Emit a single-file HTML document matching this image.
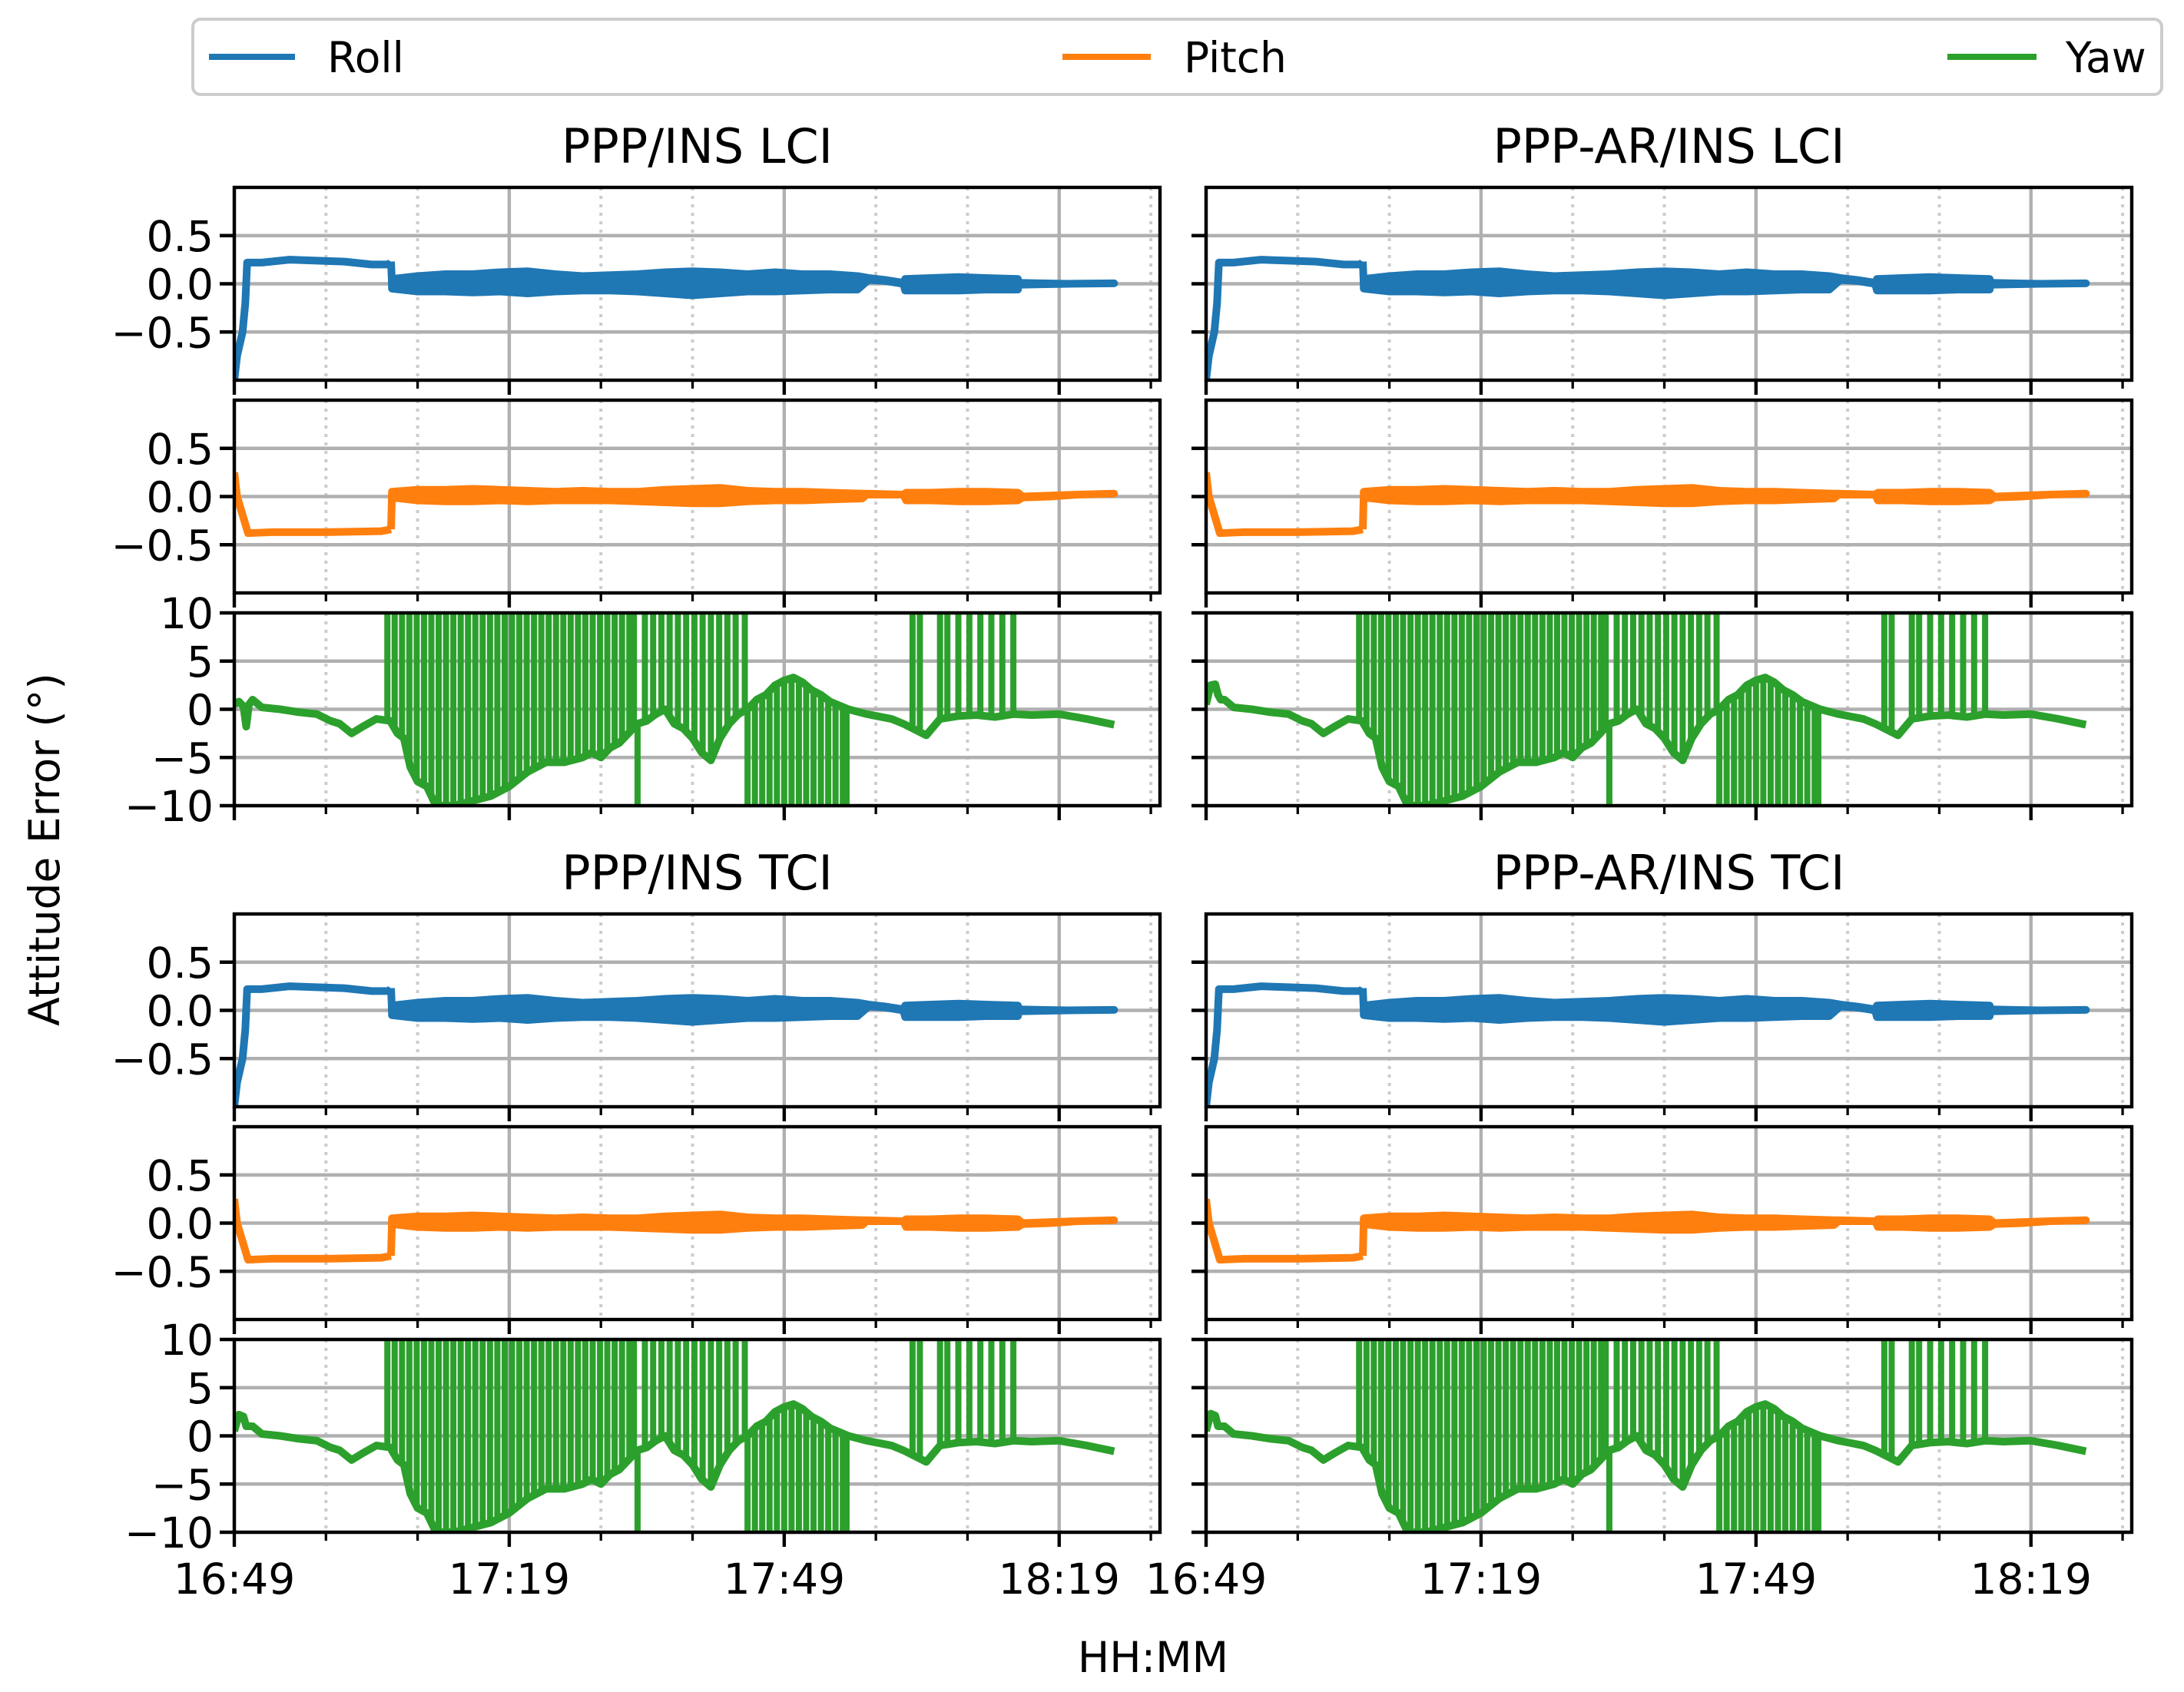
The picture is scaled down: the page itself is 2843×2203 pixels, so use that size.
<!DOCTYPE html>
<html><head><meta charset="utf-8"><style>
html,body{margin:0;padding:0;background:#fff}
svg{display:block}
text{font-family:"DejaVu Sans","Liberation Sans",sans-serif;fill:#000}
</style></head><body>
<svg id="fig" xmlns="http://www.w3.org/2000/svg" width="2843" height="2203" viewBox="0 0 2843 2203">
<rect width="2843" height="2203" fill="#fff"/>
<g>
<rect x="251" y="25" width="2563" height="98" rx="10" fill="#fff" stroke="#cccccc" stroke-width="4"/>
<g><line x1="272" y1="74" x2="384" y2="74" stroke="#1f77b4" stroke-width="8"/><text x="426" y="94" font-size="55">Roll</text></g>
<g><line x1="1383" y1="74" x2="1498" y2="74" stroke="#ff7f0e" stroke-width="8"/><text x="1541" y="94" font-size="55">Pitch</text></g>
<g><line x1="2535" y1="74" x2="2651" y2="74" stroke="#2ca02c" stroke-width="8"/><text x="2689" y="94" font-size="55">Yaw</text></g>
</g>
<text x="58" y="1106" font-size="55" text-anchor="middle" dominant-baseline="central" transform="rotate(-90 58 1106)">Attitude Error (°)</text>
<text x="1501" y="2177" font-size="55" text-anchor="middle">HH:MM</text>
</svg>
<script>
// ---- data (minutes since 16:49) ----
const xTickLabels = ["16:49","17:19","17:49","18:19"];
const xTickMinutes = [0,30,60,90];
const xMinorMinutes = [10,20,40,50,70,80,100];
const rollTicks = [-0.5,0,0.5];
const rollTickLabels = ["\u22120.5","0.0","0.5"];
const yawTicks = [-10,-5,0,5,10];
const yawTickLabels = ["\u221210","\u22125","0","5","10"];
const panelTitles = ["PPP/INS LCI","PPP-AR/INS LCI","PPP/INS TCI","PPP-AR/INS TCI"];

const rollLeadT = [0,0.3,0.9,1.2,1.4,3,6,9,12,15,16.9,17.1];
const rollLeadV = [-1.0,-0.75,-0.5,-0.2,0.22,0.22,0.25,0.24,0.23,0.2,0.2,0.23];
const rollBandT  = [17.2,20,23,26,29,32,35,38,41,44,47,50,53,56,59,62,65,68,69.2,71,73,73.2,76,79,82,85.5,85.6,88,91,96];
const rollBandHi = [0.05,0.08,0.1,0.1,0.12,0.13,0.1,0.08,0.09,0.1,0.12,0.13,0.12,0.1,0.12,0.1,0.1,0.08,0.06,0.04,0.01,0.05,0.06,0.07,0.06,0.05,0.01,0.005,0.0,0.005];
const rollBandLo = [-0.05,-0.08,-0.08,-0.09,-0.08,-0.1,-0.08,-0.07,-0.07,-0.08,-0.1,-0.12,-0.1,-0.08,-0.08,-0.07,-0.06,-0.06,0.04,0.03,0.0,-0.07,-0.07,-0.07,-0.06,-0.06,-0.01,-0.005,0.0,0.005];

const pitchLeadT = [0,0.3,1.5,4,10,16,17.1];
const pitchLeadV = [0.25,0.0,-0.38,-0.37,-0.37,-0.36,-0.34];
const pitchBandT  = [17.2,20,23,26,29,32,35,38,41,44,47,50,53,56,59,62,65,68.5,69,73,73.3,76,79,82,85.5,86,89,92,96];
const pitchBandHi = [0.05,0.07,0.07,0.08,0.07,0.06,0.05,0.06,0.05,0.05,0.07,0.08,0.09,0.06,0.05,0.05,0.04,0.03,0.03,0.02,0.04,0.04,0.05,0.05,0.04,0.0,0.01,0.02,0.03];
const pitchBandLo = [-0.01,-0.04,-0.05,-0.05,-0.04,-0.05,-0.04,-0.04,-0.04,-0.05,-0.06,-0.07,-0.07,-0.05,-0.04,-0.04,-0.03,-0.02,0.02,0.02,-0.04,-0.04,-0.05,-0.05,-0.04,-0.01,0.0,0.02,0.03];

const yawT = [2,3,5,7,9,10.5,11.5,12.8,14,15.5,17,17.8,18.5,19.2,20,21,22,24,26,28,30,32,34,36,38,39,40,41,42,43,44,45,46,47,48,49,50,51,52,53,54,55,56,57,58,59,60,61,62,63,64,65,66,67,69,71.7,73,75.5,77,79,81,83,85,87,90,93,96];
const yawV = [1.0,0.2,0,-0.3,-0.5,-1.2,-1.5,-2.5,-1.8,-1.0,-1.2,-2.5,-3,-6,-7.5,-8,-10,-10,-9.5,-9,-8,-6.5,-5.5,-5.5,-5,-4.5,-5,-4,-3.5,-2.5,-1.5,-1.2,-0.5,0,-1.5,-2,-3,-4.5,-5.3,-3,-1.5,-0.5,0,1,1.5,2.5,3,3.3,2.8,2,1.5,0.8,0.4,0,-0.5,-1,-1.5,-2.7,-1,-0.7,-0.6,-0.8,-0.5,-0.6,-0.5,-1.0,-1.6];
const yawHeadT = [0,0.5,1,1.3,1.6];
const yawHeadPPPLCI = [0.5,0.8,0.3,-1.8,0.5];
const yawHeadARLCI  = [0.5,2.5,2.6,1.5,1.0];
const yawHeadPPPTCI = [0.5,2.2,2.0,1.0,1.0];
const yawHeadARTCI  = [0.5,2.3,2.1,1.0,1.0];
const yawSpikeUpT = [16.7,17.5,18.3,19.1,19.9,20.7,21.5,22.3,23.1,23.9,24.7,25.5,26.3,27.1,27.9,28.7,29.5,30.3,31.1,31.9,32.7,33.5,34.3,35.1,35.9,36.7,37.5,38.3,39.1,39.9,40.7,41.5,42.3,43.1,43.6,44.8,45.7,46.6,47.5,48.4,49.3,50.2,51.1,52.0,52.9,53.8,54.7,55.7,74.0,74.8,77.0,77.8,79.0,80.2,81.4,82.6,83.8,85.0];
const yawSpikeDownT = [44.0,56.0,56.8,57.6,58.4,59.2,60.0,60.8,61.6,62.4,63.2,64.0,64.8,65.6,66.4,66.8];

// ---- layout ----
const NS="http://www.w3.org/2000/svg";
const svg=document.getElementById('fig');
const cols=[305,1570], W=1205, XMAX=101;
const groups=[[244,521,798],[1190,1467,1744]], H=251;
function mk(tag,attrs,parent){const e=document.createElementNS(NS,tag);for(const k in attrs)e.setAttribute(k,attrs[k]);(parent||svg).appendChild(e);return e;}
function interp(T,V,t){if(t<=T[0])return V[0];for(let i=1;i<T.length;i++){if(t<=T[i]){const f=(t-T[i-1])/(T[i]-T[i-1]);return V[i-1]+f*(V[i]-V[i-1]);}}return V[V.length-1];}
let clipId=0;
function axes(x0,y0,ymin,ymax,ticks,labels,showX,showY,name){
  const g=mk('g',{});
  
  
  const xs=t=>x0+t/XMAX*W, ys=v=>y0+H-(v-ymin)/(ymax-ymin)*H;
  xMinorMinutes.forEach(m=>{const l=mk('line',{x1:xs(m),x2:xs(m),y1:y0,y2:y0+H,stroke:'#cccccc','stroke-width':4,'stroke-dasharray':'4 7'},g);
    
    });
  xTickMinutes.forEach(m=>{const l=mk('line',{x1:xs(m),x2:xs(m),y1:y0,y2:y0+H,stroke:'#b0b0b0','stroke-width':4.4},g);
    
    });
  ticks.forEach((v,i)=>{const l=mk('line',{x1:x0,x2:x0+W,y1:ys(v),y2:ys(v),stroke:'#b0b0b0','stroke-width':4.4},g);
    
    
    mk('line',{x1:x0-19,x2:x0,y1:ys(v),y2:ys(v),stroke:'#000','stroke-width':4.4},g);
    if(showY){const tx=mk('text',{x:x0-27,y:ys(v)+20,'font-size':55,'text-anchor':'end'},g);tx.textContent=labels[i];
    
    }});
  xTickMinutes.forEach(m=>mk('line',{x1:xs(m),x2:xs(m),y1:y0+H,y2:y0+H+19,stroke:'#000','stroke-width':4.4},g));
  xMinorMinutes.forEach(m=>mk('line',{x1:xs(m),x2:xs(m),y1:y0+H,y2:y0+H+11,stroke:'#000','stroke-width':3.3},g));
  if(showX){xTickMinutes.forEach((m,i)=>{const tx=mk('text',{x:xs(m),y:2075,'font-size':55,'text-anchor':'middle'},g);tx.textContent=xTickLabels[i];
    
    });}
  const id='c'+(clipId++);
  const cp=mk('clipPath',{id:id},g);mk('rect',{x:x0,y:y0,width:W,height:H},cp);
  const dg=mk('g',{'clip-path':'url(#'+id+')'},g);
  return {g,dg,xs,ys,frame:()=>{const r=mk('rect',{x:x0,y:y0,width:W,height:H,fill:'none',stroke:'#000','stroke-width':4.4},g);
    
    }};
}
function drawLeadBand(ax,LT,LV,BT,BH,BL,color,name){
  let d='M'+LT.map((t,i)=>ax.xs(t)+' '+ax.ys(LV[i])).join(' L');
  const p=mk('path',{d:d,fill:'none',stroke:color,'stroke-width':10,'stroke-linejoin':'round'},ax.dg);
  
  
  let bd='M'+BT.map((t,i)=>ax.xs(t)+' '+ax.ys(BH[i])).join(' L');
  for(let i=BT.length-1;i>=0;i--)bd+=' L'+ax.xs(BT[i])+' '+ax.ys(BL[i]);
  bd+='Z';
  const b=mk('path',{d:bd,fill:color,stroke:color,'stroke-width':10,'stroke-linejoin':'round'},ax.dg);
  
  
  mk('line',{x1:ax.xs(LT[LT.length-1]),y1:ax.ys(LV[LV.length-1]),x2:ax.xs(BT[0]),y2:ax.ys((BH[0]+BL[0])/2),stroke:color,'stroke-width':10},ax.dg);
}
function drawYaw(ax,head){
  const T=yawHeadT.concat(yawT), V=head.concat(yawV);
  yawSpikeUpT.forEach(t=>{const l=mk('line',{x1:ax.xs(t),x2:ax.xs(t),y1:ax.ys(interp(T,V,t)),y2:ax.ys(10)-10,stroke:'#2ca02c','stroke-width':8},ax.dg);
    
    });
  yawSpikeDownT.forEach(t=>{const l=mk('line',{x1:ax.xs(t),x2:ax.xs(t),y1:ax.ys(interp(T,V,t)),y2:ax.ys(-10)+10,stroke:'#2ca02c','stroke-width':8},ax.dg);
    
    });
  const d='M'+T.map((t,i)=>ax.xs(t)+' '+ax.ys(V[i])).join(' L');
  const p=mk('path',{d:d,fill:'none',stroke:'#2ca02c','stroke-width':10,'stroke-linejoin':'round'},ax.dg);
  
  
}
const heads=[yawHeadPPPLCI,yawHeadARLCI,yawHeadPPPTCI,yawHeadARTCI];
for(let gi=0;gi<2;gi++)for(let ci=0;ci<2;ci++){
  const k=gi*2+ci, x0=cols[ci], rows=groups[gi], showY=ci===0;
  const t=mk('text',{x:x0+W/2,y:rows[0]-32,'font-size':62,'text-anchor':'middle'});t.textContent=panelTitles[k];
  
  
  const ar=axes(x0,rows[0],-1,1,rollTicks,rollTickLabels,false,showY,'roll-axes');
  drawLeadBand(ar,rollLeadT,rollLeadV,rollBandT,rollBandHi,rollBandLo,'#1f77b4','roll');ar.frame();
  const ap=axes(x0,rows[1],-1,1,rollTicks,rollTickLabels,false,showY,'pitch-axes');
  drawLeadBand(ap,pitchLeadT,pitchLeadV,pitchBandT,pitchBandHi,pitchBandLo,'#ff7f0e','pitch');ap.frame();
  const ay=axes(x0,rows[2],-10,10,yawTicks,yawTickLabels,gi===1,showY,'yaw-axes');
  drawYaw(ay,heads[k]);ay.frame();
}
</script>
</body></html>
